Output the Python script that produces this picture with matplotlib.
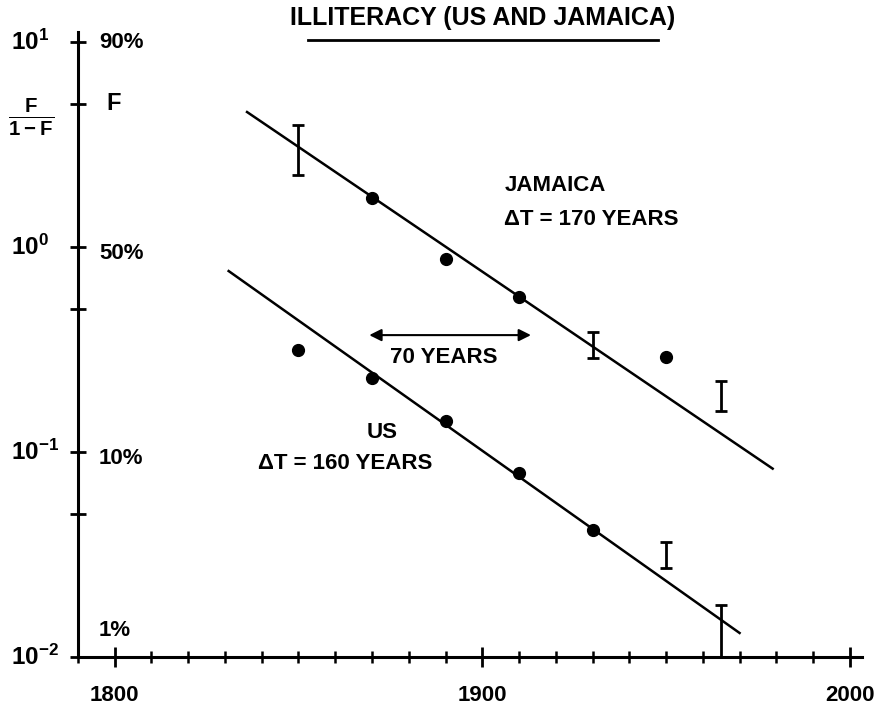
import matplotlib
matplotlib.use('Agg')
import matplotlib.pyplot as plt
import matplotlib.transforms as mtransforms
from matplotlib.ticker import FixedLocator, NullFormatter

plt.rcParams['font.family'] = ['Liberation Sans', 'DejaVu Sans']
plt.rcParams['font.weight'] = 'bold'
plt.rcParams['mathtext.default'] = 'regular'

# Jamaica: dots and error bars (F/(1-F))
jam_dot_years = [1870, 1890, 1910, 1950]
jam_dot_vals = [1.73, 0.87, 0.57, 0.29]
jam_err_years = [1850, 1930, 1965]
jam_err_low = [2.24, 0.288, 0.158]
jam_err_high = [3.94, 0.385, 0.222]
jam_fit_years = [1836, 1979]
jam_fit_vals = [4.56, 0.083]

# US
us_dot_years = [1850, 1870, 1890, 1910, 1930]
us_dot_vals = [0.315, 0.23, 0.142, 0.079, 0.0417]
us_err_years = [1950, 1965]
us_err_low = [0.0272, 0.0095]
us_err_high = [0.0364, 0.0179]
us_fit_years = [1831, 1970]
us_fit_vals = [0.764, 0.0131]

# axis labels
ratio_ticks = [10, 5, 1, 0.5, 0.1, 0.05, 0.01]
pow_labels = ['$10^{1}$', '$10^{0}$', '$10^{-1}$', '$10^{-2}$']
pow_vals = [10, 1, 0.1, 0.01]
pct_labels = ['90%', '50%', '10%', '1%']
pct_vals = [10, 0.93, 0.093, 0.0135]
year_ticks = [1800, 1900, 2000]

fig = plt.figure(figsize=(8.75, 7.07), dpi=100)
ax = fig.add_axes([0.0891, 0.0707, 0.896, 0.884])
ax.set_yscale('log')
ax.set_xlim(1790, 2003.3)
ax.set_ylim(0.01, 11.2)

lw = 1.8
ax.plot(jam_fit_years, jam_fit_vals, color='black', lw=lw)
ax.plot(us_fit_years, us_fit_vals, color='black', lw=lw)
ax.plot(jam_dot_years, jam_dot_vals, 'o', color='black', ms=8.5)
ax.plot(us_dot_years, us_dot_vals, 'o', color='black', ms=8.5)

for yrs, lo, hi in [(jam_err_years, jam_err_low, jam_err_high),
                    (us_err_years, us_err_low, us_err_high)]:
    mid = [(a * b) ** 0.5 for a, b in zip(lo, hi)]
    err = [[m - a for m, a in zip(mid, lo)], [b - m for m, b in zip(mid, hi)]]
    ax.errorbar(yrs, mid, yerr=err, fmt='none', ecolor='black',
                elinewidth=2, capsize=4, capthick=2)

# spines and ticks
for s in ['top', 'right']:
    ax.spines[s].set_visible(False)
for s in ['left', 'bottom']:
    ax.spines[s].set_linewidth(2.2)

ax.xaxis.set_major_locator(FixedLocator(year_ticks))
ax.xaxis.set_minor_locator(FixedLocator(range(1790, 2001, 10)))
ax.xaxis.set_major_formatter(NullFormatter())
ax.tick_params(axis='x', which='major', direction='inout', length=14, width=2)
ax.tick_params(axis='x', which='minor', direction='inout', length=9, width=1.8)
ax.yaxis.set_major_locator(FixedLocator(ratio_ticks))
ax.yaxis.set_minor_locator(FixedLocator([]))
ax.yaxis.set_major_formatter(NullFormatter())
ax.tick_params(axis='y', which='major', direction='inout', length=12, width=2)

fs = 16
for yr in year_ticks:
    ax.text(yr, -0.045, str(yr), transform=mtransforms.blended_transform_factory(ax.transData, ax.transAxes),
            ha='center', va='top', fontsize=fs)

ytr = mtransforms.blended_transform_factory(fig.transFigure, ax.transData)
for lab, v in zip(pow_labels, pow_vals):
    ax.text(0.013, v, lab, transform=ytr, ha='left', va='center', fontsize=fs + 1.5)
for lab, v in zip(pct_labels, pct_vals):
    ax.text(0.113, v, lab, transform=ytr, ha='left', va='center', fontsize=fs)
ax.text(0.122, 5.0, 'F', transform=ytr, ha='left', va='center', fontsize=fs + 1)
ax.text(0.036, 4.3, r'$\frac{F}{1-F}$', transform=ytr, ha='center', va='center', fontsize=fs + 5)

ax.text(1906, 2.0, 'JAMAICA', fontsize=fs, ha='left', va='center')
ax.text(1906, 1.36, '\u0394T = 170 YEARS', fontsize=fs, ha='left', va='center')
ax.text(1872.7, 0.124, 'US', fontsize=fs, ha='center', va='center')
ax.text(1839, 0.0883, '\u0394T = 160 YEARS', fontsize=fs, ha='left', va='center')

ax.annotate('', xy=(1914, 0.372), xytext=(1868.5, 0.372),
            arrowprops=dict(arrowstyle='<|-|>', color='black', lw=1.5,
                            mutation_scale=18))
ax.text(1889.5, 0.288, '70 YEARS', fontsize=fs, ha='center', va='center')

fig.text(0.552, 0.975, 'ILLITERACY (US AND JAMAICA)', fontsize=fs + 2,
         ha='center', va='center')
fig.add_artist(plt.Line2D([0.352, 0.752], [0.944, 0.944], color='black', lw=2,
                          transform=fig.transFigure))

fig.savefig('out.png', dpi=100)
